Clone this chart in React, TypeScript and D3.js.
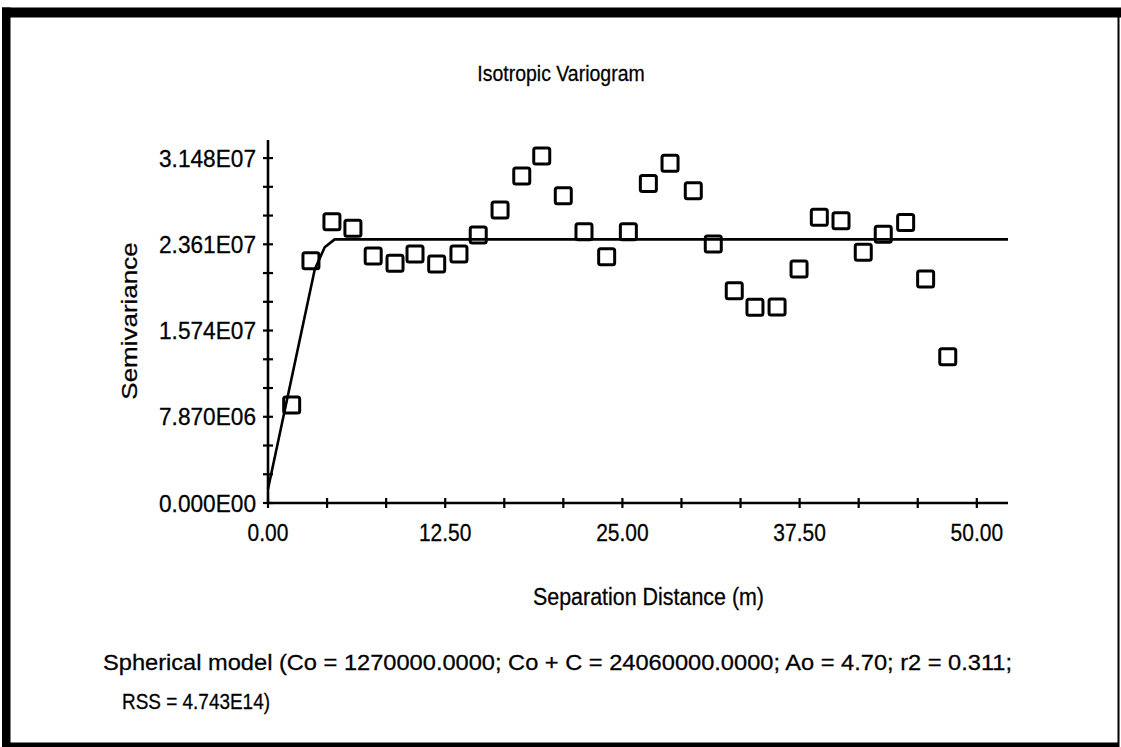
import React from "react";
import * as d3 from "d3";

// ---- data ----
const distances = [1.67, 3.03, 4.51, 5.99, 7.42, 8.96, 10.37, 11.9, 13.47, 14.83, 16.37, 17.9, 19.31, 20.83, 22.29, 23.89, 25.42, 26.83, 28.36, 30.0, 31.41, 32.89, 34.35, 35.91, 37.46, 38.89, 40.42, 41.99, 43.4, 44.98, 46.39, 47.95];
const semivariances = [8.94e6, 22.11e6, 25.67e6, 25.07e6, 22.54e6, 21.87e6, 22.72e6, 21.81e6, 22.72e6, 24.45e6, 26.74e6, 29.84e6, 31.66e6, 28.04e6, 24.76e6, 22.47e6, 24.76e6, 29.17e6, 31.0e6, 28.5e6, 23.63e6, 19.37e6, 17.86e6, 17.88e6, 21.35e6, 26.07e6, 25.76e6, 22.88e6, 24.52e6, 25.61e6, 20.44e6, 13.35e6];

const yTickValues = [0, 7.87e6, 1.574e7, 2.361e7, 3.148e7];
const yTickLabels = ["0.000E00", "7.870E06", "1.574E07", "2.361E07", "3.148E07"];
const xTickValues = [0, 12.5, 25, 37.5, 50];
const xTickLabels = ["0.00", "12.50", "25.00", "37.50", "50.00"];

// spherical model parameters
const nugget = 1270000;
const sill = 24060000;
const range = 4.7;
// lags at which the program evaluated the model curve
const modelLags = [0, 3.3, 4.0, 4.7, 52.2];

const titleText = "Isotropic Variogram";
const yTitle = "Semivariance";
const xTitle = "Separation Distance  (m)";
const noteLine1 = "Spherical model (Co = 1270000.0000; Co + C = 24060000.0000; Ao = 4.70; r2 = 0.311;";
const noteLine2 = "RSS = 4.743E14)";

const FONT = "'Liberation Sans', Arial, sans-serif";
const SY = 1.1;

function T(props: { x: number; y: number; size: number; anchor?: string; len?: number; rotate?: boolean; children: string }) {
  const { x, y, size, anchor = "start", len, rotate, children } = props;
  return (
    <g transform={`translate(${x},${y}) scale(1,${SY})${rotate ? " rotate(-90)" : ""}`}>
      <text
        x={0}
        y={0}
        fontFamily={FONT}
        fontSize={size}
        textAnchor={anchor}
        fill="#000"
        stroke="#000"
        strokeWidth={0.25}
        {...(len ? { textLength: len, lengthAdjust: "spacingAndGlyphs" } : {})}
      >
        {children}
      </text>
    </g>
  );
}

export default function App() {
  const W = 1121;
  const H = 747;
  const x = d3.scaleLinear().domain([0, 52.2]).range([268, 1008]);
  const y = d3.scaleLinear().domain([0, 3.313e7]).range([503, 140]);

  const xMinor = d3.range(0, 13).map((i) => (12.5 / 3) * i);
  const yMinor = d3.range(0, 13).map((i) => (7.87e6 / 3) * i);

  const modelFn = (h: number) => {
    if (h >= range) return sill;
    const r = h / range;
    return nugget + (sill - nugget) * (1.5 * r - 0.5 * r * r * r);
  };
  const line = d3
    .line<number>()
    .x((h) => x(h))
    .y((h) => y(modelFn(h)))(modelLags);

  const x0 = x(0);
  const y0 = y(0);
  const sq = 16;

  return (
    <svg width={W} height={H} style={{ position: "absolute", left: 0, top: 0, background: "#fff" }}>
      <rect x={0} y={0} width={W} height={H} fill="#fff" />
      {/* frame */}
      <rect x={2} y={7.5} width={W - 2} height={10} fill="#000" />
      <rect x={2} y={7.5} width={8.5} height={H - 7.5} fill="#000" />
      <rect x={1117.5} y={15} width={2} height={H - 15} fill="#000" />
      <rect x={2} y={742.5} width={1117} height={4.5} fill="#000" />

      {/* title */}
      <T x={561} y={81} size={19.5} anchor="middle">{titleText}</T>

      {/* y axis */}
      <line x1={x0} x2={x0} y1={140} y2={y0} stroke="#000" strokeWidth={2.6} />
      {yMinor.map((v, i) => (
        <line key={"ym" + i} x1={x0 - 5} x2={x0 + 5} y1={y(v)} y2={y(v)} stroke="#000" strokeWidth={2.2} />
      ))}
      {yTickValues.map((v, i) => (
        <T key={"yl" + i} x={256} y={y(v) + 8.5} size={21} anchor="end" len={97}>{yTickLabels[i]}</T>
      ))}
      <T x={137} y={321} size={22.5} anchor="middle" rotate len={143}>{yTitle}</T>

      {/* x axis */}
      <line x1={x0} x2={x(52.2)} y1={y0} y2={y0} stroke="#000" strokeWidth={2.6} />
      {xMinor.map((v, i) => (
        <line key={"xm" + i} x1={x(v)} x2={x(v)} y1={y0 - 5} y2={y0 + 5} stroke="#000" strokeWidth={2.2} />
      ))}
      {xTickValues.map((v, i) => (
        <T key={"xl" + i} x={x(v)} y={541} size={21} anchor="middle">{xTickLabels[i]}</T>
      ))}
      <T x={533} y={605} size={21} len={231}>{xTitle}</T>

      {/* model */}
      <path d={line || ""} fill="none" stroke="#000" strokeWidth={2.6} strokeLinejoin="round" />

      {/* observed points */}
      {distances.map((d, i) => (
        <rect
          key={"p" + i}
          x={x(d) - sq / 2}
          y={y(semivariances[i]) - sq / 2}
          width={sq}
          height={sq}
          rx={2}
          fill="none"
          stroke="#000"
          strokeWidth={3}
        />
      ))}

      {/* note */}
      <T x={103} y={670} size={20} len={909}>{noteLine1}</T>
      <T x={122} y={709} size={20} len={148}>{noteLine2}</T>
    </svg>
  );
}
